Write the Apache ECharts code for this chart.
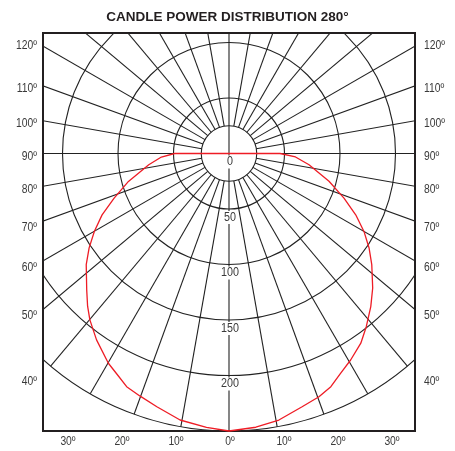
<!DOCTYPE html>
<html>
<head>
<meta charset="utf-8">
<script src="https://cdn.jsdelivr.net/npm/echarts@6/dist/echarts.min.js"></script>
<style>
html,body{margin:0;padding:0;background:#ffffff;}
#chart{width:455px;height:451px;}
</style>
</head>
<body>
<div id="chart"></div>
<script>
// ---------- data ----------
const chartTitle = 'CANDLE POWER DISTRIBUTION 280°';

// candela rings (grid circles) and their labels
const ringValues = [25, 50, 100, 150, 200, 250];
const ringLabelValues = [0, 50, 100, 150, 200];
const ringLabels = ['0', '50', '100', '150', '200'];

// spokes every 10 degrees (0 = straight down)
const spokeAngles = [0, 10, 20, 30, 40, 50, 60, 70, 80, 90, 100, 110, 120, 130, 140, 150, 160, 170,
  180, 190, 200, 210, 220, 230, 240, 250, 260, 270, 280, 290, 300, 310, 320, 330, 340, 350];

// side tick labels (both sides)
const sideLabelAngles = [120, 110, 100, 90, 80, 70, 60, 50, 40];
const sideLabels = ['120º', '110º', '100º', '90º', '80º', '70º', '60º', '50º', '40º'];

// bottom tick labels
const bottomLabelAngles = [-30, -20, -10, 0, 10, 20, 30];
const bottomLabels = ['30º', '20º', '10º', '0º', '10º', '20º', '30º'];

// candle power curve: angle (deg, right side positive) and candela
const curveAngles = [-90, -90, -87, -82, -74.5, -68.8, -64.2, -60, -56, -52.1, -46.2, -42.8, -39.9, -35.4,
  -29.9, -26.9, -23.7, -20.2, -15.9, -10.4, -4.7, 0,
  5.6, 10.6, 16.1, 20.3, 23.6, 26.9, 30.5, 34.8, 38.4, 42.8, 46.9, 52.1, 56, 60, 64.2, 68.8,
  74.5, 82, 87, 90, 90];
const curveValues = [0, 49, 61, 73, 94, 111, 127, 140, 152, 163, 177.6, 187.5, 195.4, 206,
  218, 223, 229.4, 232.7, 237.2, 244.1, 247.5, 250,
  247.8, 244.3, 237.5, 233.6, 229.2, 222.1, 215.9, 208.1, 199.1, 188, 177.3, 163, 152.2, 140.4, 126.8, 111.1,
  93.5, 72.8, 60, 46, 0];

// ---------- layout ----------
const X_HALF = 167.57;   // candela units from centre to side frame
const Y_TOP = 108.56;    // candela units from centre to top frame
const Y_BOTTOM = -250;
const LINE_COLOR = '#222222';
const TEXT_COLOR = '#3a3a3a';
const CURVE_COLOR = '#ee1c25';
const FONT = '"Liberation Sans", Arial, sans-serif';
const NARROW = 0.86;
const D2R = Math.PI / 180;

function polarPoint(angleDeg, value) {
  return [value * Math.sin(angleDeg * D2R), -value * Math.cos(angleDeg * D2R)];
}
function sideOffset(a) {
  if (a >= 120) return 0;
  if (a < 80) return 6.5;
  return 3;
}

const curveData = curveAngles.map((a, i) => polarPoint(a, curveValues[i]));

const chart = echarts.init(document.getElementById('chart'), null, {renderer: 'canvas'});

chart.setOption({
  animation: false,
  backgroundColor: '#ffffff',
  title: {
    text: chartTitle,
    left: 'center',
    top: 5,
    textStyle: {fontFamily: FONT, fontWeight: 'bold', fontSize: 13.5, color: '#231f20'}
  },
  grid: {
    left: 43, top: 33, width: 372, height: 398,
    show: true, borderColor: '#231f20', borderWidth: 2, backgroundColor: 'transparent'
  },
  xAxis: {type: 'value', min: -X_HALF, max: X_HALF, show: false},
  yAxis: {type: 'value', min: Y_BOTTOM, max: Y_TOP, show: false},
  series: [
    {
      // rings
      type: 'custom', clip: true, silent: true, z: 2,
      data: ringValues.map(v => [v]),
      encode: {x: -1, y: -1},
      renderItem: function (params, api) {
        const v = api.value(0);
        const c = api.coord([0, 0]);
        const e = api.coord([v, 0]);
        return {type: 'circle', shape: {cx: c[0], cy: c[1], r: e[0] - c[0]},
          style: {fill: 'none', stroke: LINE_COLOR, lineWidth: 1.1}};
      }
    },
    {
      // spokes
      type: 'custom', clip: true, silent: true, z: 2,
      data: spokeAngles.map(a => [a]),
      encode: {x: -1, y: -1},
      renderItem: function (params, api) {
        const a = api.value(0);
        const r0 = (a % 90 === 0) ? 0 : ringValues[0];
        const r1 = ringValues[ringValues.length - 1];
        const p0 = api.coord(polarPoint(a, r0));
        const p1 = api.coord(polarPoint(a, r1));
        return {type: 'line', shape: {x1: p0[0], y1: p0[1], x2: p1[0], y2: p1[1]},
          style: {stroke: LINE_COLOR, lineWidth: 1.1}};
      }
    },
    {
      // ring labels
      type: 'custom', clip: false, silent: true, z: 4,
      data: ringLabelValues.map((v, i) => [v, i]),
      encode: {x: -1, y: -1},
      renderItem: function (params, api) {
        const v = api.value(0);
        const p = api.coord([0, -v]);
        return {type: 'text', x: p[0] + 1, y: p[1] + 2, scaleX: NARROW,
          style: {text: ringLabels[api.value(1)], fill: TEXT_COLOR, font: '12.5px ' + FONT,
            align: 'center', verticalAlign: 'top', backgroundColor: '#ffffff', padding: [0, 1, 0, 1]}};
      }
    },
    {
      // side labels
      type: 'custom', clip: false, silent: true, z: 4,
      data: sideLabelAngles.map((a, i) => [a, i]),
      encode: {x: -1, y: -1},
      renderItem: function (params, api) {
        const a = api.value(0);
        const yv = -X_HALF * Math.cos(a * D2R) / Math.sin(a * D2R);
        const pl = api.coord([-X_HALF, yv]);
        const pr = api.coord([X_HALF, yv]);
        const t = sideLabels[api.value(1)];
        const dy = sideOffset(a);
        return {type: 'group', children: [
          {type: 'text', x: pl[0] - 6, y: pl[1] + dy, scaleX: NARROW,
            style: {text: t, fill: TEXT_COLOR, font: '12px ' + FONT, align: 'right', verticalAlign: 'middle'}},
          {type: 'text', x: pr[0] + 9, y: pr[1] + dy, scaleX: NARROW,
            style: {text: t, fill: TEXT_COLOR, font: '12px ' + FONT, align: 'left', verticalAlign: 'middle'}}
        ]};
      }
    },
    {
      // bottom labels
      type: 'custom', clip: false, silent: true, z: 4,
      data: bottomLabelAngles.map((a, i) => [a, i]),
      encode: {x: -1, y: -1},
      renderItem: function (params, api) {
        const a = api.value(0);
        const c = api.coord([0, Y_BOTTOM]);
        return {type: 'text', x: c[0] + 1 + a * 5.4, y: c[1] + 11, scaleX: NARROW,
          style: {text: bottomLabels[api.value(1)], fill: TEXT_COLOR, font: '12px ' + FONT,
            align: 'center', verticalAlign: 'middle'}};
      }
    },
    {
      type: 'line', z: 5,
      data: curveData,
      showSymbol: false, symbol: 'none', smooth: false, clip: false,
      lineStyle: {color: CURVE_COLOR, width: 1.3},
      silent: true
    }
  ]
});
</script>
</body>
</html>
